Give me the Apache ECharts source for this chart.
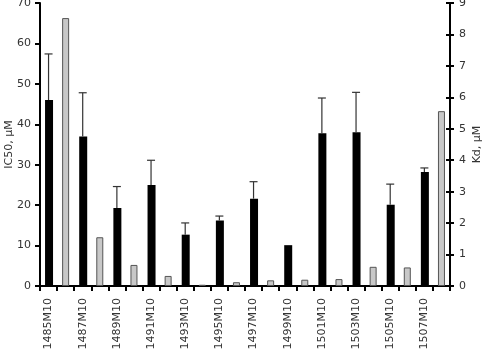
<!DOCTYPE html>
<html>
<head>
<meta charset="utf-8">
<script src="https://cdn.jsdelivr.net/npm/echarts@6/dist/echarts.min.js"></script>
<style>
  html, body { margin: 0; padding: 0; background: #fff; }
  #chart { width: 486px; height: 350px; }
</style>
</head>
<body>
<div id="chart"></div>
<script>
// compounds, one black (IC50) and one grey (Kd) bar each
const compounds = ['1485M10', '1487M10', '1489M10', '1491M10', '1493M10', '1495M10',
  '1497M10', '1499M10', '1501M10', '1503M10', '1505M10', '1507M10'];
const ic50 = [46.0, 37.0, 19.3, 25.0, 12.7, 16.2, 21.6, 10.1, 37.8, 38.0, 20.1, 28.2];
const ic50Sd = [11.4, 10.8, 5.3, 6.1, 2.9, 1.1, 4.2, 0, 8.7, 9.9, 5.1, 1.0];
const kd = [8.52, 1.55, 0.67, 0.32, 0.04, 0.12, 0.18, 0.2, 0.22, 0.61, 0.59, 5.56];
const leftTicks = [0, 70, 10];
const rightTicks = [0, 9, 1];

// two slots per compound: black bar first, then grey bar
const slots = [];
const blackData = [];
const greyData = [];
const errData = [];
compounds.forEach((c, i) => {
  slots.push(c, '');
  blackData.push(ic50[i], '-');
  greyData.push('-', kd[i]);
  if (ic50Sd[i] > 0) errData.push([2 * i, ic50[i], ic50[i] + ic50Sd[i]]);
});

const font = 'DejaVu Sans';
const textColor = '#333';
const fontSize = 11;

const chart = echarts.init(document.getElementById('chart'));

const option = {
  animation: false,
  grid: { left: 40, right: 36, top: 3, bottom: 64, outerBoundsMode: 'none', containLabel: false },
  xAxis: {
    type: 'category',
    data: slots,
    axisLine: { lineStyle: { color: '#000', width: 2 } },
    axisTick: { show: true, interval: 0, alignWithLabel: false, length: 5, lineStyle: { color: '#000', width: 2 } },
    axisLabel: { interval: 0, rotate: 90, margin: 12, color: textColor, fontFamily: font, fontSize: fontSize }
  },
  yAxis: [
    {
      type: 'value',
      min: leftTicks[0], max: leftTicks[1], interval: leftTicks[2],
      name: 'IC50, μM',
      nameLocation: 'middle',
      nameGap: 25,
      nameRotate: 90,
      nameMoveOverlap: false,
      nameTextStyle: { color: textColor, fontFamily: font, fontSize: fontSize },
      axisLine: { show: true, lineStyle: { color: '#000', width: 2 } },
      axisTick: { show: true, length: 5, lineStyle: { color: '#000', width: 2 } },
      axisLabel: { color: textColor, fontFamily: font, fontSize: fontSize, margin: 9 },
      splitLine: { show: false }
    },
    {
      type: 'value',
      position: 'right',
      min: rightTicks[0], max: rightTicks[1], interval: rightTicks[2],
      name: 'Kd, μM',
      nameLocation: 'middle',
      nameGap: 22,
      nameRotate: 90,
      nameMoveOverlap: false,
      nameTextStyle: { color: textColor, fontFamily: font, fontSize: fontSize },
      axisLine: { show: true, lineStyle: { color: '#000', width: 2 } },
      axisTick: { show: true, length: 4, lineStyle: { color: '#000', width: 2 } },
      axisLabel: { color: textColor, fontFamily: font, fontSize: fontSize, margin: 9 },
      splitLine: { show: false }
    },
    {
      // inward half of the crossing ticks on the right axis
      type: 'value',
      position: 'right',
      min: rightTicks[0], max: rightTicks[1], interval: rightTicks[2],
      axisLine: { show: false },
      axisTick: { show: true, inside: true, length: 4, lineStyle: { color: '#000', width: 2 } },
      axisLabel: { show: false },
      splitLine: { show: false }
    }
  ],
  series: [
    {
      name: 'IC50',
      type: 'bar',
      data: blackData,
      barWidth: 8,
      barGap: '-100%',
      itemStyle: { color: '#000' }
    },
    {
      name: 'Kd',
      type: 'bar',
      yAxisIndex: 1,
      data: greyData,
      barWidth: 7,
      barGap: '-100%',
      itemStyle: { color: '#c8c8c8', borderColor: '#555', borderWidth: 1 }
    },
    {
      name: 'error',
      type: 'custom',
      data: errData,
      encode: { x: 0, y: [1, 2] },
      z: 3,
      renderItem: function (params, api) {
        const x = api.value(0);
        const base = api.coord([x, api.value(1)]);
        const top = api.coord([x, api.value(2)]);
        const half = 4;
        const style = { stroke: '#333', lineWidth: 1.2 };
        return {
          type: 'group',
          children: [
            { type: 'line', shape: { x1: top[0], y1: base[1], x2: top[0], y2: top[1] }, style: style },
            { type: 'line', shape: { x1: top[0] - half, y1: top[1], x2: top[0] + half, y2: top[1] }, style: style }
          ]
        };
      }
    }
  ]
};

chart.setOption(option);
</script>
</body>
</html>
